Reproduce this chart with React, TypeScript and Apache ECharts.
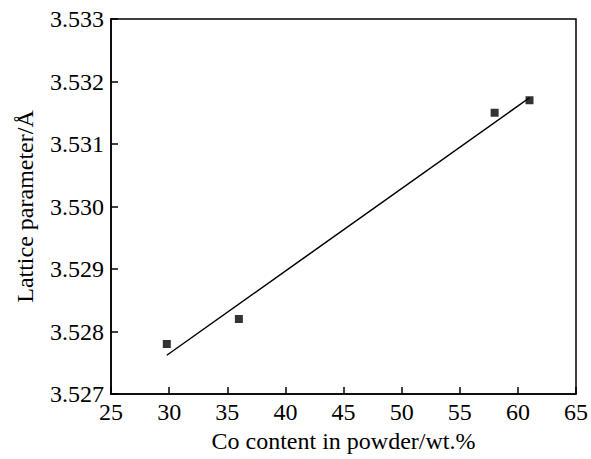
import React, { useEffect, useRef } from "react";
import * as echarts from "echarts";

const coContent = [29.8, 36.0, 58.0, 61.0];
const latticeParam = [3.5278, 3.5282, 3.5315, 3.5317];
const fitX = [29.8, 61.0];
const fitY = [3.52762, 3.53174];

const FONT = "'Liberation Serif', 'Times New Roman', serif";

export default function App() {
  const ref = useRef<HTMLDivElement>(null);
  useEffect(() => {
    if (!ref.current) return;
    const chart = echarts.init(ref.current, undefined, { renderer: "svg" });
    chart.setOption({
      animation: false,
      backgroundColor: "#fff",
      grid: {
        left: 111,
        right: 12,
        top: 19,
        bottom: 65,
        show: true,
        borderColor: "#000",
        borderWidth: 1.5,
      },
      xAxis: {
        type: "value",
        min: 25,
        max: 65,
        interval: 5,
        name: "Co content in powder/wt.%",
        nameLocation: "middle",
        nameGap: 34,
        nameTextStyle: { fontFamily: FONT, fontSize: 24, color: "#000" },
        axisLine: { show: true, onZero: false, lineStyle: { color: "#000", width: 1.5 } },
        axisTick: { show: true, inside: true, length: 7, lineStyle: { color: "#000", width: 1.5 } },
        axisLabel: { fontFamily: FONT, fontSize: 24, color: "#000", margin: 6 },
        splitLine: { show: false },
      },
      yAxis: {
        type: "value",
        min: 3.527,
        max: 3.533,
        interval: 0.001,
        name: "Lattice parameter/Å",
        nameLocation: "middle",
        nameGap: 74,
        nameRotate: 90,
        nameTextStyle: { fontFamily: FONT, fontSize: 24, color: "#000" },
        axisLine: { show: true, onZero: false, lineStyle: { color: "#000", width: 1.5 } },
        axisTick: { show: true, inside: true, length: 7, lineStyle: { color: "#000", width: 1.5 } },
        axisLabel: {
          fontFamily: FONT,
          fontSize: 24,
          color: "#000",
          margin: 7,
          formatter: (v: number) => v.toFixed(3),
        },
        splitLine: { show: false },
      },
      series: [
        {
          type: "scatter",
          data: coContent.map((x, i) => [x, latticeParam[i]]),
          symbol: "rect",
          symbolSize: 8,
          itemStyle: { color: "#000" },
          z: 3,
        },
        {
          type: "line",
          data: fitX.map((x, i) => [x, fitY[i]]),
          showSymbol: false,
          symbol: "none",
          lineStyle: { color: "#000", width: 1.5 },
          z: 2,
        },
      ],
    });
    return () => chart.dispose();
  }, []);
  return (
    <div
      ref={ref}
      style={{ position: "fixed", left: 0, top: 0, width: 591, height: 459, background: "#fff" }}
    />
  );
}
